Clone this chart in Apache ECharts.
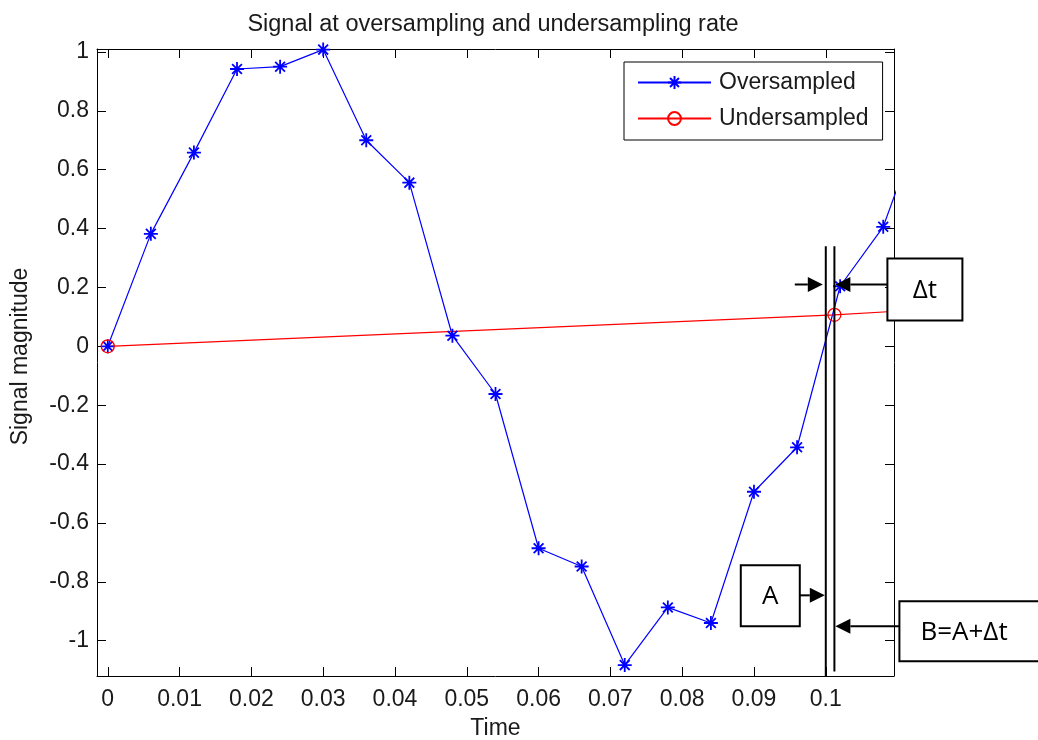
<!DOCTYPE html>
<html>
<head>
  <meta charset="UTF-8">
  <script src="https://cdn.jsdelivr.net/npm/echarts@6/dist/echarts.min.js"></script>
  <style>
    html, body { margin: 0; padding: 0; background: #fff; }
    #main { width: 1038px; height: 740px; }
  </style>
</head>
<body>
  <div id="main"></div>
  <script>
    // oversampled signal (sample every 0.006 s)
    var overTime = [0, 0.006, 0.012, 0.018, 0.024, 0.030, 0.036, 0.042, 0.048, 0.054,
                    0.060, 0.066, 0.072, 0.078, 0.084, 0.090, 0.096, 0.102, 0.108, 0.114];
    var overMag = [0, 0.382, 0.658, 0.942, 0.95, 1.008, 0.70, 0.556, 0.036, -0.162,
                   -0.686, -0.748, -1.083, -0.887, -0.94, -0.494, -0.343, 0.204, 0.406, 0.81];

    // undersampled signal
    var underTime = [0, 0.1012, 0.2024];
    var underMag = [0, 0.107, 0.25];

    // axis ticks
    var xTicks = [0, 0.01, 0.02, 0.03, 0.04, 0.05, 0.06, 0.07, 0.08, 0.09, 0.1];
    var yTicks = [-1, -0.8, -0.6, -0.4, -0.2, 0, 0.2, 0.4, 0.6, 0.8, 1];

    // annotation anchors (data units)
    var markA = 0.1;
    var markB = underTime[1];
    var markTop = 0.34;
    var markBottomB = -1.105;
    var arrowY = [0.21, -0.846, -0.951];

    var xMin = -0.0015, xMax = 0.1095, yMin = -1.12, yMax = 1.01;

    var font = '"Liberation Sans", Arial, sans-serif';
    var labelColor = '#1a1a1a';
    var star = 'path://M8 0L8 16M0 8L16 8M2.4 2.4L13.6 13.6M13.6 2.4L2.4 13.6';

    function pair(xs, ys) {
      return xs.map(function (x, i) { return [x, ys[i]]; });
    }

    function fmt(v) { return String(+(+v).toFixed(3)); }

    var axisLine = { show: true, onZero: false, lineStyle: { color: '#000', width: 1 } };

    var chart = echarts.init(document.getElementById('main'));

    chart.setOption({
      animation: false,
      backgroundColor: '#fff',
      title: {
        text: 'Signal at oversampling and undersampling rate',
        left: 488,
        textAlign: 'center',
        top: 8,
        textStyle: { fontFamily: font, fontSize: 23.5, fontWeight: 'normal', color: labelColor }
      },
      legend: {
        orient: 'vertical',
        left: 624,
        top: 62,
        backgroundColor: '#fff',
        borderColor: '#000',
        borderWidth: 1,
        borderRadius: 0,
        padding: [9, 14, 10, 13],
        itemWidth: 73,
        itemHeight: 16,
        itemGap: 13,
        textStyle: { fontFamily: font, fontSize: 23, color: labelColor, padding: [0, 0, 0, 3] },
        data: ['Oversampled', 'Undersampled']
      },
      grid: { left: 97, right: 144, top: 49, bottom: 64, containLabel: false, outerBoundsMode: 'none' },
      xAxis: [{
        type: 'value',
        min: xMin, max: xMax,
        position: 'bottom',
        name: 'Time',
        nameLocation: 'middle',
        nameGap: 41,
        nameTextStyle: { fontFamily: font, fontSize: 23, color: labelColor },
        axisLine: axisLine,
        axisTick: { show: true, inside: true, length: 9, customValues: xTicks, lineStyle: { color: '#000' } },
        axisLabel: { customValues: xTicks, formatter: fmt, margin: 12, fontFamily: font, fontSize: 23, color: labelColor },
        splitLine: { show: false }
      }, {
        type: 'value',
        min: xMin, max: xMax,
        position: 'top',
        axisLine: axisLine,
        axisTick: { show: true, inside: true, length: 9, customValues: xTicks, lineStyle: { color: '#000' } },
        axisLabel: { show: false },
        splitLine: { show: false }
      }],
      yAxis: [{
        type: 'value',
        min: yMin, max: yMax,
        position: 'left',
        name: 'Signal magnitude',
        nameLocation: 'middle',
        nameGap: 65,
        nameTextStyle: { fontFamily: font, fontSize: 23, color: labelColor, padding: [0, 0, 0, 12] },
        axisLine: axisLine,
        axisTick: { show: true, inside: true, length: 9, customValues: yTicks, lineStyle: { color: '#000' } },
        axisLabel: { customValues: yTicks, formatter: fmt, margin: 8, fontFamily: font, fontSize: 23, color: labelColor },
        splitLine: { show: false }
      }, {
        type: 'value',
        min: yMin, max: yMax,
        position: 'right',
        axisLine: axisLine,
        axisTick: { show: true, inside: true, length: 9, customValues: yTicks, lineStyle: { color: '#000' } },
        axisLabel: { show: false },
        splitLine: { show: false }
      }],
      series: [{
        name: 'Oversampled',
        type: 'line',
        data: pair(overTime, overMag),
        showAllSymbol: true,
        symbol: star,
        symbolSize: 14,
        lineStyle: { color: '#0000ff', width: 1.2 },
        itemStyle: { color: '#0000ff', borderColor: '#0000ff', borderWidth: 1.8 },
        emphasis: { disabled: true }
      }, {
        name: 'Undersampled',
        type: 'line',
        data: pair(underTime, underMag),
        showAllSymbol: true,
        symbol: 'circle',
        symbolSize: 13,
        lineStyle: { color: '#ff0000', width: 1.2 },
        itemStyle: { color: 'rgba(0,0,0,0)', borderColor: '#ff0000', borderWidth: 1.3 },
        emphasis: { disabled: true }
      }]
    });

    // annotations drawn on top, anchored to data coordinates
    function px(x, y) { return chart.convertToPixel({ gridIndex: 0 }, [x, y]); }

    var xA = px(markA, 0)[0];
    var xB = px(markB, 0)[0];
    var yTop = px(0, markTop)[1];
    var yBotA = px(0, yMin)[1];
    var yBotB = px(0, markBottomB)[1];
    var ay = arrowY.map(function (v) { return px(0, v)[1]; });

    var black = '#000';
    var boxStyle = { fill: '#fff', stroke: black, lineWidth: 2 };
    var textStyle = { fontFamily: '"Open Sans", "Liberation Sans", sans-serif', fontSize: 26, fill: black };

    function vline(x, y1, y2) {
      return { type: 'line', z: 100, shape: { x1: x, y1: y1, x2: x, y2: y2 }, style: { stroke: black, lineWidth: 2 } };
    }
    // arrow from x1 to tip at x2 along y
    function arrow(x1, x2, y) {
      var dir = x2 > x1 ? 1 : -1;
      var base = x2 - dir * 15;
      return [
        { type: 'line', z: 100, shape: { x1: x1, y1: y, x2: base, y2: y }, style: { stroke: black, lineWidth: 2 } },
        { type: 'polygon', z: 100, shape: { points: [[x2, y], [base, y - 7.5], [base, y + 7.5]] }, style: { fill: black } }
      ];
    }
    function box(x, y, w, h, label, tx) {
      return [
        { type: 'rect', z: 100, shape: { x: x, y: y, width: w, height: h }, style: boxStyle },
        {
          type: 'text', z: 101,
          style: Object.assign({}, textStyle, {
            text: label, x: tx != null ? tx : x + w / 2, y: y + h / 2 + 1,
            align: tx != null ? 'left' : 'center', verticalAlign: 'middle'
          })
        }
      ];
    }

    var els = [];
    els.push(vline(xA, yTop, yBotA));
    els.push(vline(xB, yTop, yBotB));
    els = els.concat(arrow(xA - 31, xA - 3, ay[0]));
    els = els.concat(box(xB + 53, ay[0] - 26, 75, 62, 'Δt'));
    els = els.concat(arrow(xB + 53, xB + 1, ay[0]));
    els = els.concat(box(xA - 85, ay[1] - 30, 59, 61, 'A'));
    els = els.concat(arrow(xA - 26, xA - 1, ay[1]));
    els = els.concat(box(xB + 65, ay[2] - 25, 140, 60, 'B=A+Δt', xB + 86));
    els = els.concat(arrow(xB + 65, xB + 1, ay[2]));

    chart.setOption({ graphic: { elements: els } });
  </script>
</body>
</html>
